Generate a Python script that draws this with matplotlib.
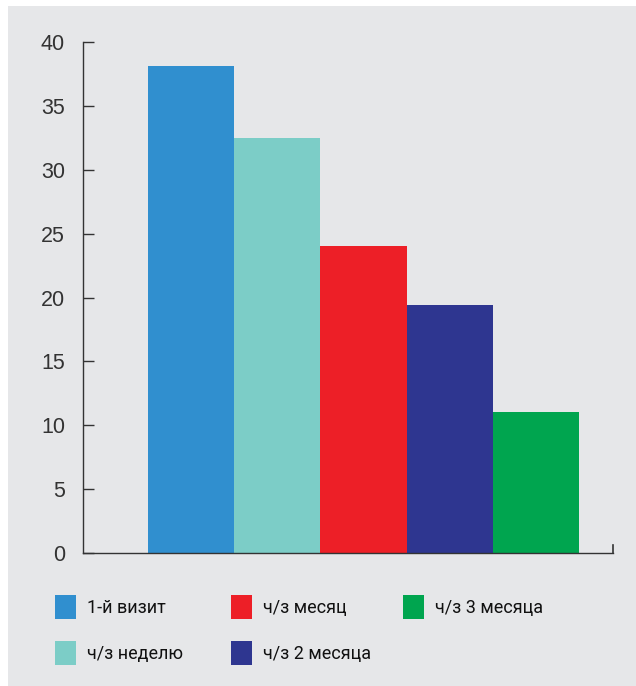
import matplotlib
matplotlib.use("Agg")
import matplotlib.pyplot as plt
from matplotlib.patches import Rectangle

categories = ["1-й визит", "ч/з неделю", "ч/з месяц", "ч/з 2 месяца", "ч/з 3 месяца"]
values = [38.1, 32.5, 24.0, 19.4, 11.0]
colors = ["#308fcf", "#7ccdc7", "#ed1f27", "#2e3690", "#00a54f"]
yticks = [0, 5, 10, 15, 20, 25, 30, 35, 40]

BG = "#e6e7e9"
W, H = 636, 686
fig = plt.figure(figsize=(W / 100, H / 100), dpi=100, facecolor="white")

# grey panel with a thin white margin on the left and top
fig.patches.append(Rectangle((8 / W, 0), 1 - 8 / W, 1 - 6 / H,
                             transform=fig.transFigure, facecolor=BG,
                             edgecolor="none", zorder=-10))

ax = fig.add_axes([83 / W, 133 / H, 530 / W, 511 / H])
ax.set_facecolor("none")

x = range(len(values))
ax.bar(x, values, width=1.0, color=colors, edgecolor="none", zorder=2)

ax.set_xlim(-1.254, 4.894)
ax.set_ylim(0, 40)
ax.set_yticks(yticks)
ax.set_xticks([])

for s in ("top", "right"):
    ax.spines[s].set_visible(False)
for s in ("left", "bottom"):
    ax.spines[s].set_color("#333333")
    ax.spines[s].set_linewidth(1.0)
    ax.spines[s].set_zorder(3)

ax.tick_params(axis="y", direction="in", length=8, width=1.0,
               color="#333333", labelsize=15.5, labelcolor="#333333", pad=13)
for lab in ax.get_yticklabels():
    lab.set_fontfamily("Liberation Sans")

# small end tick at the right of the baseline
ax.plot([1, 1], [0, 8 / 511], transform=ax.transAxes, color="#333333",
        lw=1.2, clip_on=False, zorder=3)

# legend: three columns, filled column by column
col_x = [55, 231, 403]
row_y = [595, 641]
sq_w, sq_h = 21, 24
leg_font = ["Roboto", "DejaVu Sans"]
for i, (lab, c) in enumerate(zip(categories, colors)):
    cx = col_x[i // 2]
    ry = row_y[i % 2]
    fig.patches.append(Rectangle((cx / W, 1 - (ry + sq_h) / H), sq_w / W, sq_h / H,
                                 transform=fig.transFigure, facecolor=c,
                                 edgecolor="none"))
    fig.text((cx + 32) / W, 1 - (ry + sq_h / 2 + 1) / H, lab,
             family=leg_font, fontsize=13, color="#111111",
             ha="left", va="center")

fig.savefig("out.png", dpi=100, facecolor="white")
